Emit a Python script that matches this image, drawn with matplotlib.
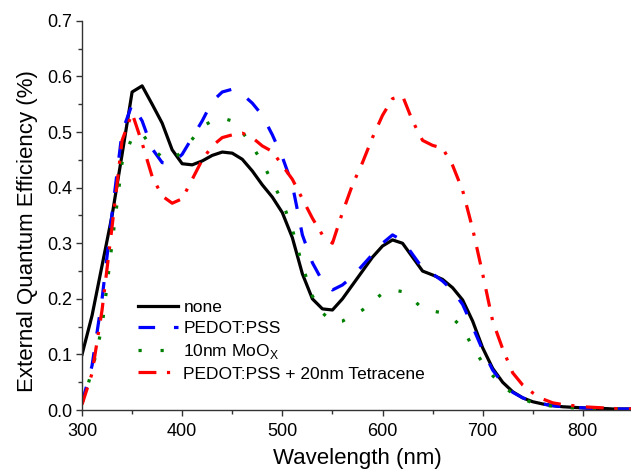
import matplotlib
matplotlib.use("Agg")
import matplotlib.pyplot as plt

plt.rcParams['font.family'] = ['Liberation Sans', 'DejaVu Sans']
plt.rcParams['mathtext.fontset'] = 'custom'
plt.rcParams['mathtext.rm'] = 'Liberation Sans'

wavelength = list(range(300, 860, 10))

none = [0.10, 0.17, 0.26, 0.35, 0.46, 0.572, 0.583, 0.55, 0.516, 0.468,
        0.443, 0.441, 0.448, 0.458, 0.464, 0.462, 0.451, 0.43, 0.405, 0.383,
        0.355, 0.31, 0.245, 0.20, 0.182, 0.18, 0.20, 0.225, 0.25, 0.275,
        0.295, 0.306, 0.30, 0.275, 0.25, 0.243, 0.235, 0.22, 0.198, 0.16,
        0.112, 0.075, 0.05, 0.033, 0.022, 0.015, 0.011, 0.008, 0.006, 0.005,
        0.004, 0.003, 0.003, 0.002, 0.002, 0.002]

pedot = [0.013, 0.08, 0.20, 0.354, 0.50, 0.55, 0.52, 0.47, 0.445, 0.443,
         0.46, 0.49, 0.52, 0.555, 0.572, 0.577, 0.568, 0.552, 0.53, 0.495,
         0.455, 0.405, 0.315, 0.265, 0.232, 0.216, 0.225, 0.24, 0.26, 0.28,
         0.30, 0.315, 0.305, 0.28, 0.255, 0.245, 0.232, 0.215, 0.19, 0.15,
         0.108, 0.072, 0.048, 0.032, 0.022, 0.015, 0.011, 0.008, 0.006, 0.005,
         0.004, 0.003, 0.003, 0.002, 0.002, 0.002]

moox = [0.012, 0.07, 0.15, 0.30, 0.445, 0.49, 0.498, 0.47, 0.455, 0.45,
        0.465, 0.487, 0.51, 0.52, 0.525, 0.52, 0.50, 0.475, 0.445, 0.41,
        0.375, 0.325, 0.26, 0.205, 0.175, 0.158, 0.16, 0.17, 0.18, 0.195,
        0.21, 0.216, 0.213, 0.20, 0.182, 0.178, 0.175, 0.165, 0.148, 0.113,
        0.085, 0.062, 0.043, 0.03, 0.02, 0.013, 0.009, 0.007, 0.005, 0.004,
        0.003, 0.003, 0.002, 0.002, 0.002, 0.002]

tetracene = [0.01, 0.066, 0.18, 0.33, 0.485, 0.534, 0.48, 0.42, 0.385, 0.372,
             0.38, 0.415, 0.45, 0.475, 0.49, 0.495, 0.498, 0.49, 0.475, 0.465,
             0.44, 0.415, 0.38, 0.345, 0.315, 0.30, 0.355, 0.405, 0.445, 0.49,
             0.53, 0.56, 0.565, 0.52, 0.485, 0.476, 0.471, 0.44, 0.395, 0.326,
             0.245, 0.16, 0.11, 0.067, 0.045, 0.031, 0.02, 0.013, 0.01, 0.008,
             0.006, 0.005, 0.004, 0.003, 0.002, 0.002]

labels = ['none', 'PEDOT:PSS', r'10nm MoO$_\mathregular{X}$',
          'PEDOT:PSS + 20nm Tetracene']
x_ticks = [300, 400, 500, 600, 700, 800]
y_ticks = [0.0, 0.1, 0.2, 0.3, 0.4, 0.5, 0.6, 0.7]

fig = plt.figure(figsize=(6.31, 4.73), dpi=100)
ax = fig.add_axes([0.130, 0.133, 0.873, 0.823])

lw = 2.3
ax.plot(wavelength, none, color='black', lw=lw, ls='-', label=labels[0])
ax.plot(wavelength, pedot, color='#0000ff', lw=lw, ls=(0, (5.2, 5.9)), label=labels[1])
ax.plot(wavelength, moox, color='#008000', lw=lw, ls=(0, (1, 5.9)), label=labels[2])
ax.plot(wavelength, tetracene, color='#ff0000', lw=lw, ls=(0, (5.6, 3.3, 1, 3.6)), label=labels[3])

ax.set_xlim(300, 850)
ax.set_ylim(0, 0.7)
ax.set_xticks(x_ticks)
ax.set_xticks([350, 450, 550, 650, 750, 850], minor=True)
ax.set_yticks(y_ticks)
ax.set_yticks([0.05, 0.15, 0.25, 0.35, 0.45, 0.55, 0.65], minor=True)
ax.set_yticklabels([f'{v:.1f}' for v in y_ticks])

for side in ['top', 'right']:
    ax.spines[side].set_visible(False)
for side in ['left', 'bottom']:
    ax.spines[side].set_linewidth(1.0)
    ax.spines[side].set_color('#333333')

ax.tick_params(axis='both', which='major', direction='out', length=4.5, width=1.0,
               labelsize=13, color='#333333')
ax.tick_params(axis='both', which='minor', direction='out', length=3, width=1.0,
               color='#333333')
ax.tick_params(axis='x', which='major', pad=5)
ax.tick_params(axis='y', which='major', pad=2.5)

ax.set_xlabel('Wavelength (nm)', fontsize=16)
ax.set_ylabel('External Quantum Efficiency (%)', fontsize=16)
ax.xaxis.set_label_coords(0.5, -0.098)
ax.yaxis.set_label_coords(-0.08, 0.46)

ax.legend(loc='upper left', bbox_to_anchor=(0.102, 0.283), frameon=False,
          fontsize=12.5, handlelength=2.3, handletextpad=0.3, labelspacing=0.33,
          borderpad=0, borderaxespad=0)

fig.savefig('out.png', dpi=100)
